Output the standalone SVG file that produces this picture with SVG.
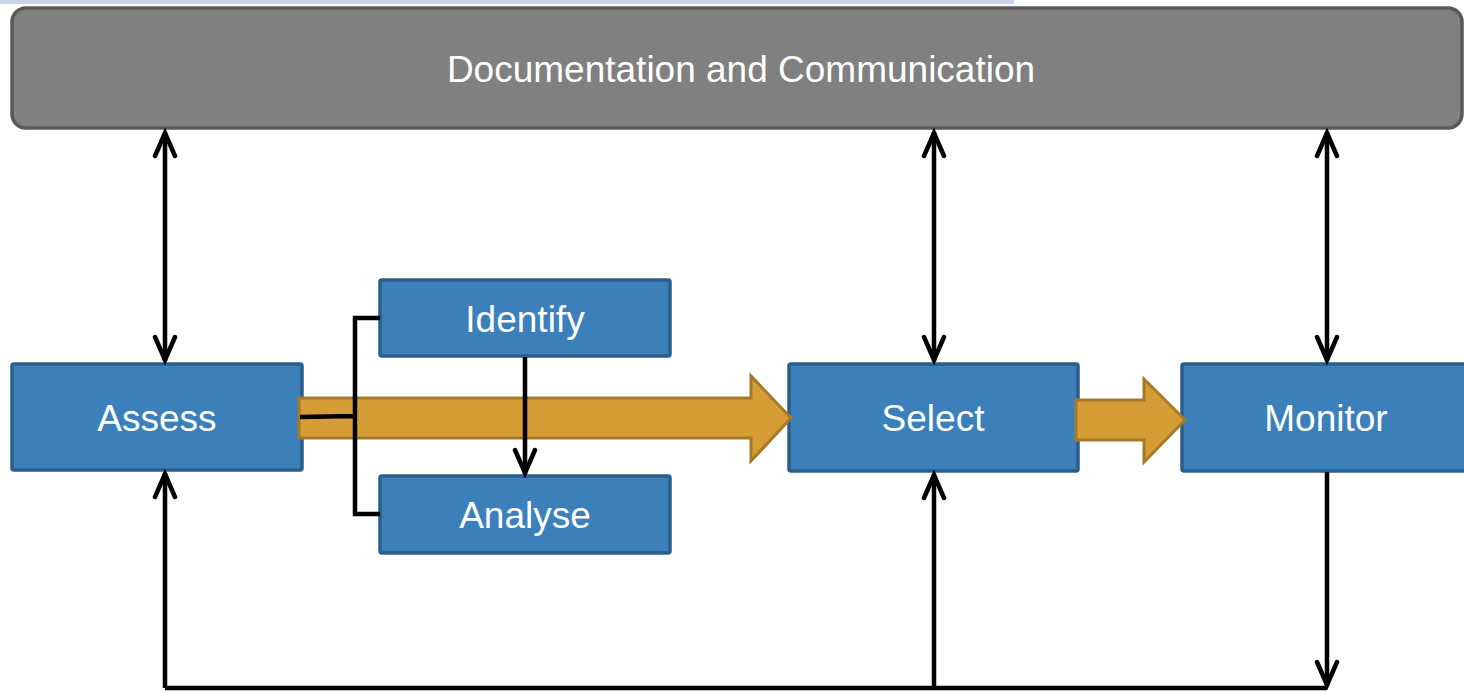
<svg xmlns="http://www.w3.org/2000/svg" width="1464" height="692" viewBox="0 0 1464 692">
<style>
.box{fill:#3b80ba;stroke:#2b5e8a;stroke-width:3.5}
.lbl{font-family:"Liberation Sans",Arial,sans-serif;font-size:37px;fill:#fff;text-anchor:middle}
.ln{fill:none;stroke:#000;stroke-width:4.5}
.big{fill:#d69d36;stroke:#a47a29;stroke-width:3}
</style>
<defs>
<marker id="v" viewBox="-30 -16 34 32" markerWidth="34" markerHeight="32" refX="0" refY="0" orient="auto-start-reverse" markerUnits="userSpaceOnUse">
<path d="M-24,-10 L-1,0 L-24,10" fill="none" stroke="#000" stroke-width="4.5" stroke-linecap="round"/>
</marker>
</defs>
<rect x="0" y="0" width="1014" height="4" fill="#c9d5e8"/>
<g id="doc">
<rect x="12" y="8" width="1450" height="120" rx="14" fill="#808080" stroke="#595959" stroke-width="3.5"/>
<text class="lbl" x="741" y="82">Documentation and Communication</text>
</g>
<g id="assess">
<rect class="box" x="12" y="364" width="290" height="106" rx="2"/>
<text class="lbl" x="157" y="431">Assess</text>
</g>
<g id="identify">
<rect class="box" x="380" y="280" width="290" height="76" rx="2"/>
<text class="lbl" x="525" y="332">Identify</text>
</g>
<g id="analyse">
<rect class="box" x="380" y="476" width="290" height="77" rx="2"/>
<text class="lbl" x="525" y="528">Analyse</text>
</g>
<g id="select">
<rect class="box" x="789" y="364" width="289" height="107" rx="2"/>
<text class="lbl" x="933" y="431">Select</text>
</g>
<g id="monitor">
<rect class="box" x="1182" y="364" width="290" height="107" rx="2"/>
<text class="lbl" x="1326" y="431">Monitor</text>
</g>
<g id="connectors">
<path class="big" d="M299,398 L751,398 L751,376 L791,418 L751,461 L751,438 L299,438 Z"/>
<path class="big" d="M1076,400 L1144,400 L1144,379 L1185,420 L1144,462 L1144,440 L1076,440 Z"/>
<path class="ln" d="M300,417 L355,416 M380,318 L355,318 L355,514 L380,514" stroke-width="5"/>
<line class="ln" x1="525" y1="357" x2="525" y2="474" marker-end="url(#v)"/>
<line class="ln" x1="165" y1="132" x2="165" y2="361" marker-start="url(#v)" marker-end="url(#v)"/>
<line class="ln" x1="934" y1="132" x2="934" y2="361" marker-start="url(#v)" marker-end="url(#v)"/>
<line class="ln" x1="1327" y1="132" x2="1327" y2="361" marker-start="url(#v)" marker-end="url(#v)"/>
<path class="ln" d="M165,688 L1327,688" stroke-width="5.5"/>
<line class="ln" x1="165" y1="688" x2="165" y2="473" marker-end="url(#v)"/>
<line class="ln" x1="934" y1="688" x2="934" y2="474" marker-end="url(#v)"/>
<line class="ln" x1="1327" y1="472" x2="1327" y2="686" marker-end="url(#v)"/>
</g>
</svg>
